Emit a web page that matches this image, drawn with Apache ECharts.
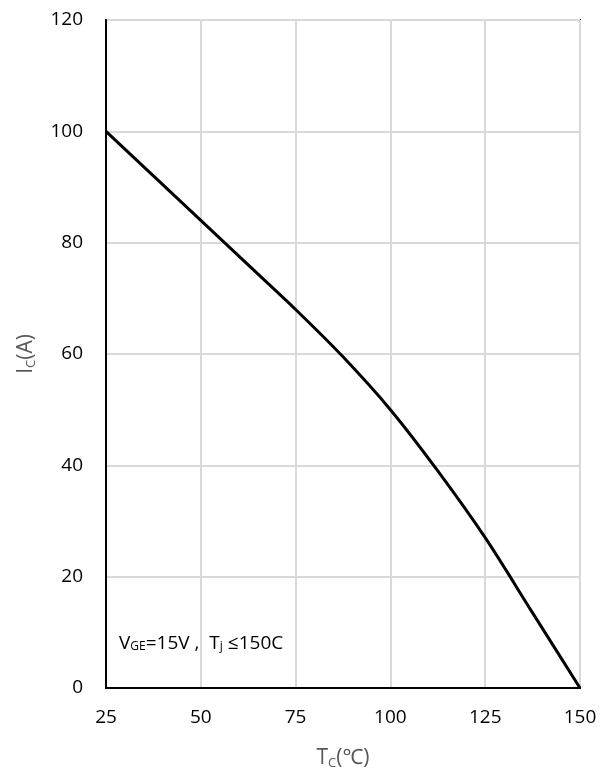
<!DOCTYPE html>
<html>
<head>
<meta charset="utf-8">
<script src="https://cdn.jsdelivr.net/npm/echarts@6/dist/echarts.min.js"></script>
<style>
  html, body { margin: 0; padding: 0; background: #fff; }
  #chart { width: 609px; height: 775px; }
</style>
</head>
<body>
<div id="chart"></div>
<script>
// Case temperature (°C) and rated collector current (A)
const caseTemp = [25, 37.5, 50, 62.5, 75, 87.5, 100, 112.5, 125, 137.5, 150];
const collectorCurrent = [100, 92, 84, 76, 68, 59.5, 50, 39, 27, 13.5, 0];
const xTicks = [25, 50, 75, 100, 125, 150];
const yTicks = [0, 20, 40, 60, 80, 100, 120];

const points = caseTemp.map((t, i) => [t, collectorCurrent[i]]);
const FONT = '"Open Sans", "Noto Sans", sans-serif';

const chart = echarts.init(document.getElementById('chart'));
chart.setOption({
  animation: false,
  backgroundColor: '#ffffff',
  grid: { left: 106, right: 29, top: 20, bottom: 82, show: true, borderColor: '#000', borderWidth: 2 },
  xAxis: {
    type: 'value',
    min: xTicks[0], max: xTicks[xTicks.length - 1], interval: 25,
    axisLine: { show: true, lineStyle: { color: '#000', width: 2 } },
    axisTick: { show: false },
    axisLabel: { color: '#000', fontSize: 19, fontFamily: FONT, margin: 20 },
    splitLine: { show: true, lineStyle: { color: '#d9d9d9', width: 2 } },
    name: '{b|T}{s|C}{b|(℃)}',
    nameLocation: 'middle',
    nameGap: 58,
    nameTextStyle: {
      rich: {
        b: { fontSize: 21, color: '#595959', fontFamily: FONT },
        s: { fontSize: 13, color: '#595959', fontFamily: FONT, padding: [11, 0, 0, 0] }
      }
    }
  },
  yAxis: {
    type: 'value',
    min: yTicks[0], max: yTicks[yTicks.length - 1], interval: 20,
    axisLine: { show: true, lineStyle: { color: '#000', width: 2 } },
    axisTick: { show: false },
    axisLabel: { color: '#000', fontSize: 19, fontFamily: FONT, margin: 23 },
    splitLine: { show: true, lineStyle: { color: '#d9d9d9', width: 2 } },
    name: '{b|I}{s|C}{b|(A)}',
    nameLocation: 'middle',
    nameGap: 68,
    nameRotate: 90,
    nameTextStyle: {
      rich: {
        b: { fontSize: 21, color: '#595959', fontFamily: FONT },
        s: { fontSize: 13, color: '#595959', fontFamily: FONT, padding: [11, 0, 0, 0] }
      }
    }
  },
  series: [{
    type: 'line',
    data: points,
    smooth: 0.3,
    symbol: 'none',
    lineStyle: { color: '#000', width: 3 },
    z: 5
  }],
  graphic: [{
    type: 'text',
    left: 119,
    top: 634,
    style: {
      text: '{b|V}{s|GE}{b|=15V ,  T}{s|j}{b| ≤150C}',
      rich: {
        b: { fontSize: 19, color: '#404040', fontFamily: FONT },
        s: { fontSize: 12, color: '#404040', fontFamily: FONT, padding: [6, 0, 0, 0] }
      }
    }
  }]
});
</script>
</body>
</html>
